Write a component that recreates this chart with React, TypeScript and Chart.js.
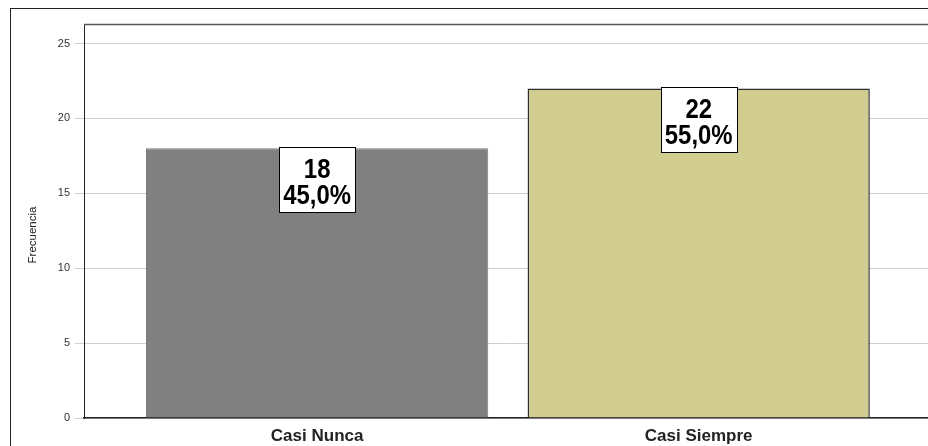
import React, { useEffect, useRef } from "react";
import { Chart, registerables } from "chart.js";

Chart.register(...registerables);

const categories = ["Casi Nunca", "Casi Siempre"];
const counts = [18, 22];
const percents = ["45,0%", "55,0%"];
const barColors = ["#808080", "#d1cc90"];
const barBorders = ["#7a7a7a", "#2e2e2e"];
const yTitle = "Frecuencia";

const FONT = "'Liberation Sans', Arial, sans-serif";

const decorPlugin = {
  id: "decor",
  beforeDraw(chart: any) {
    const ctx = chart.ctx;
    ctx.save();
    ctx.fillStyle = "#ffffff";
    ctx.fillRect(0, 0, chart.width, chart.height);
    ctx.strokeStyle = "#222222";
    ctx.lineWidth = 1;
    ctx.strokeRect(10.5, 8.5, chart.width + 20, chart.height + 20);
    ctx.restore();
  },
  afterDraw(chart: any) {
    const ctx = chart.ctx;
    const a = chart.chartArea;
    ctx.save();
    ctx.strokeStyle = "#555555";
    ctx.lineWidth = 1.5;
    ctx.beginPath();
    ctx.moveTo(a.left, a.top + 0.5);
    ctx.lineTo(a.right, a.top + 0.5);
    ctx.stroke();
    ctx.fillStyle = "#222222";
    ctx.font = `11.5px ${FONT}`;
    ctx.textAlign = "center";
    ctx.textBaseline = "middle";
    ctx.translate(33, 235);
    ctx.rotate(-Math.PI / 2);
    ctx.fillText(yTitle, 0, 0);
    ctx.restore();
  },
  afterDatasetsDraw(chart: any) {
    const ctx = chart.ctx;
    const meta = chart.getDatasetMeta(0);
    meta.data.forEach((el: any, i: number) => {
      const w = 76;
      const h = 65;
      const left = Math.round(el.x - w / 2) + 0.5;
      const top = Math.round(el.y) - 0.5;
      ctx.save();
      ctx.fillStyle = "#ffffff";
      ctx.fillRect(left, top, w, h);
      ctx.strokeStyle = "#000000";
      ctx.lineWidth = 1;
      ctx.strokeRect(left, top, w, h);
      ctx.fillStyle = "#000000";
      ctx.font = `bold 26px ${FONT}`;
      ctx.textAlign = "center";
      ctx.textBaseline = "alphabetic";
      ctx.translate(el.x, top);
      ctx.scale(0.92, 1.04);
      ctx.fillText(String(counts[i]), 0, 29.5);
      ctx.fillText(percents[i], 0, 54);
      ctx.restore();
    });
  },
};

export default function App() {
  const ref = useRef<HTMLCanvasElement>(null);
  useEffect(() => {
    if (!ref.current) return;
    const chart = new Chart(ref.current, {
      type: "bar",
      data: {
        datasets: [
          {
            data: counts.map((c, i) => ({ x: i, y: c })),
            backgroundColor: barColors,
            borderColor: barBorders,
            borderWidth: [1, 1.5],
            barPercentage: 0.897,
            categoryPercentage: 1,
          } as any,
        ],
      },
      options: {
        responsive: false,
        animation: false,
        events: [],
        layout: { padding: { top: 24, left: 0, right: 0, bottom: 0 } },
        plugins: { legend: { display: false }, tooltip: { enabled: false } },
        scales: {
          x: {
            type: "linear",
            offset: false,
            min: -0.611,
            max: 1.601,
            afterFit: (s: any) => {
              s.height = 28;
            },
            afterBuildTicks: (s: any) => {
              s.ticks = categories.map((_, i) => ({ value: i }));
            },
            grid: { display: false, drawTicks: false, offset: false },
            border: { display: true, color: "#222222", width: 1.5 },
            ticks: {
              autoSkip: false,
              maxRotation: 0,
              padding: 8,
              color: "#222222",
              font: { family: FONT, size: 17, weight: "bold" },
              callback: (v: any) => categories[v as number] ?? "",
            },
          },
          y: {
            min: 0,
            max: 26.3,
            afterFit: (s: any) => {
              s.width = 84;
            },
            grid: { color: "#cfcfcf", lineWidth: 1, drawTicks: true, tickLength: 9 },
            border: { display: true, color: "#222222", width: 1 },
            ticks: {
              stepSize: 5,
              includeBounds: false,
              padding: 5,
              color: "#333333",
              font: { family: FONT, size: 11 },
            },
          },
        },
      } as any,
      plugins: [decorPlugin],
    });
    return () => chart.destroy();
  }, []);
  return (
    <div style={{ position: "absolute", left: 0, top: 0 }}>
      <canvas ref={ref} width={928} height={446} style={{ display: "block" }} />
    </div>
  );
}
